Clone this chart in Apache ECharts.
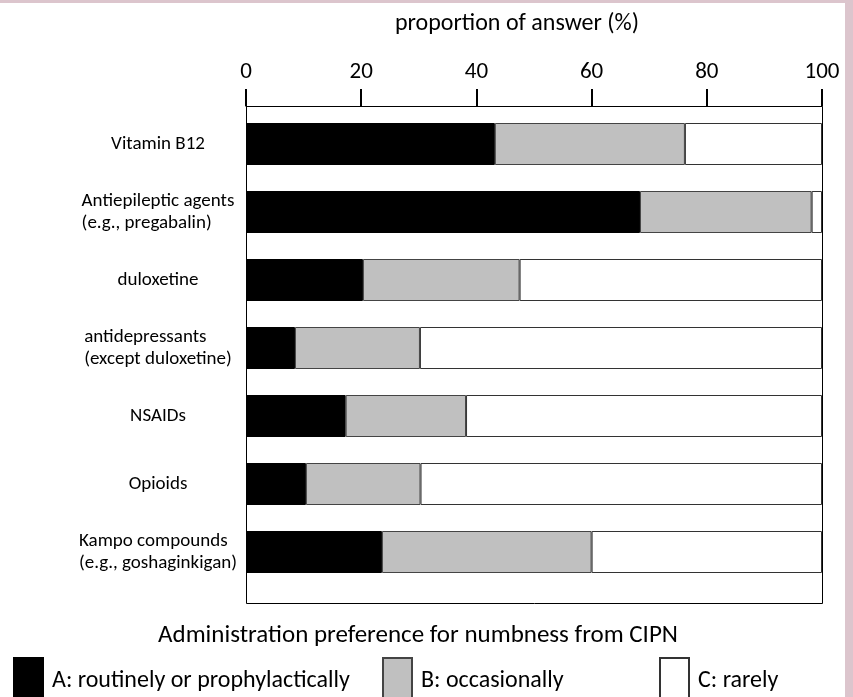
<!DOCTYPE html>
<html><head><meta charset="utf-8">
<script src="https://cdn.jsdelivr.net/npm/echarts@6/dist/echarts.min.js"></script>
<style>html,body{margin:0;padding:0;background:#fff}#c{width:853px;height:697px}</style>
</head><body><div id="c"></div>
<script>
const categories = ['Vitamin B12','Antiepileptic agents\n(e.g., pregabalin)','duloxetine','antidepressants\n(except duloxetine)','NSAIDs','Opioids','Kampo compounds\n(e.g., goshaginkigan)'];
const routinely = [43.2, 68.4, 20.3, 8.5, 17.3, 10.4, 23.6];
const occasionally = [33.0, 29.8, 27.2, 21.7, 20.9, 19.9, 36.4];
const rarely = [23.8, 1.8, 52.5, 69.8, 61.8, 69.7, 40.0];
const xTicks = [0, 20, 40, 60, 80, 100];
const seriesNames = ['A: routinely or prophylactically', 'B: occasionally', 'C: rarely'];

const FONT = 'Carlito, Lato, sans-serif';
const chart = echarts.init(document.getElementById('c'), null, {renderer: 'canvas'});
const mkLegend = (name, left) => ({
  data: [{name: name, icon: 'rect'}], left: left, top: 657, orient: 'horizontal', padding: 0,
  itemWidth: 29, itemHeight: 46, selectedMode: false,
  textStyle: {fontFamily: FONT, fontSize: 24, color: '#000', padding: [0, 0, 0, 4]}
});
chart.setOption({
  animation: false,
  backgroundColor: '#fff',
  title: [
    {text: 'proportion of answer (%)', left: 517, top: 12, textAlign: 'center', padding: 0,
     textStyle: {fontFamily: FONT, fontSize: 24, fontWeight: 'normal', color: '#000'}},
    {text: 'Administration preference for numbness from CIPN', left: 418, top: 623, textAlign: 'center', padding: 0,
     textStyle: {fontFamily: FONT, fontSize: 25, fontWeight: 'normal', color: '#000'}}
  ],
  legend: [mkLegend(seriesNames[0], 13), mkLegend(seriesNames[1], 382), mkLegend(seriesNames[2], 659)],
  grid: {left: 246, right: 31, top: 110, height: 476},
  xAxis: {
    type: 'value', min: 0, max: 100, interval: 20, position: 'top', offset: 4,
    axisLine: {show: true, lineStyle: {color: '#000', width: 1}},
    axisTick: {show: true, length: 17, lineStyle: {color: '#000', width: 2}},
    axisLabel: {fontFamily: FONT, fontSize: 23, color: '#000', margin: 22,
      formatter: v => xTicks.includes(v) ? String(v) : ''},
    splitLine: {show: false}
  },
  yAxis: {
    type: 'category', inverse: true, data: categories,
    axisLine: {show: false}, axisTick: {show: false},
    axisLabel: {
      margin: 88, align: 'center', fontFamily: FONT, fontSize: 19, color: '#000', lineHeight: 22,
      formatter: v => v.split('\n').map(s => '{l|' + s + '}').join('\n'),
      rich: {l: {align: 'left', fontFamily: FONT, fontSize: 19, color: '#000', lineHeight: 22}}
    }
  },
  series: [
    {name: seriesNames[0], type: 'bar', stack: 's', barWidth: 42, data: routinely,
     itemStyle: {color: '#000', borderColor: '#000', borderWidth: 1}},
    {name: seriesNames[1], type: 'bar', stack: 's', barWidth: 42, data: occasionally,
     itemStyle: {color: '#c0c0c0', borderColor: '#444', borderWidth: 1}},
    {name: seriesNames[2], type: 'bar', stack: 's', barWidth: 42, data: rarely,
     itemStyle: {color: '#fff', borderColor: '#333', borderWidth: 1}}
  ],
  graphic: [
    {type: 'rect', shape: {x: 246.5, y: 106.5, width: 576, height: 497}, z: 10,
     style: {fill: 'none', stroke: '#000', lineWidth: 1}},
    {type: 'rect', shape: {x: 0, y: 0, width: 853, height: 3}, style: {fill: '#dcc5cd'}},
    {type: 'rect', shape: {x: 845, y: 0, width: 8, height: 697}, style: {fill: '#dcc5cd'}}
  ]
});
</script></body></html>
